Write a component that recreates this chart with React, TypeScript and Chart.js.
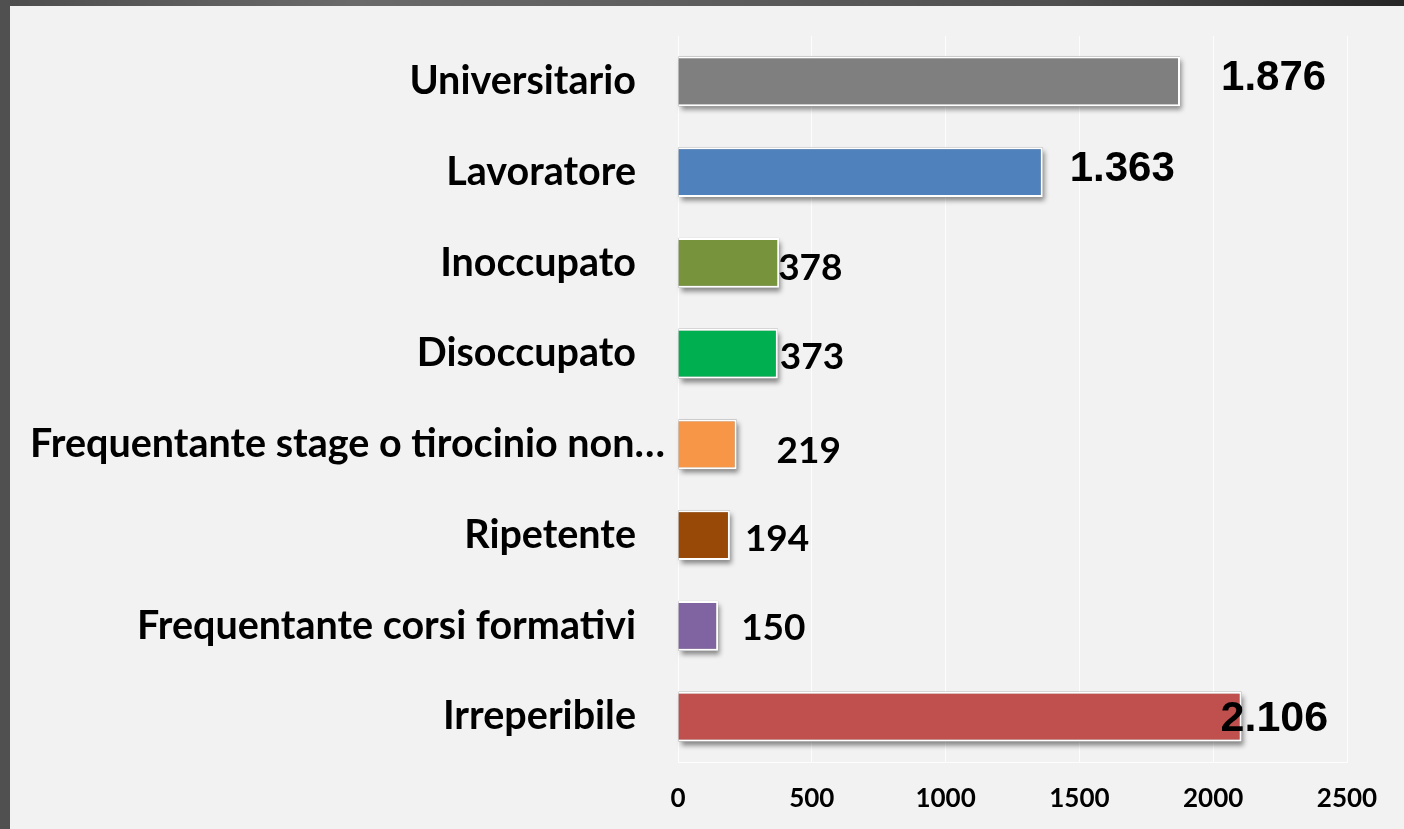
import React, { useEffect, useRef } from 'react';
import { Chart, registerables } from 'chart.js';

Chart.register(...registerables);

// ---- data ----
const categories = [
  'Universitario',
  'Lavoratore',
  'Inoccupato',
  'Disoccupato',
  'Frequentante stage o tirocinio non…',
  'Ripetente',
  'Frequentante corsi formativi',
  'Irreperibile',
];
const values = [1876, 1363, 378, 373, 219, 194, 150, 2106];
const barColors = ['#7f7f7f', '#4f81bd', '#77933c', '#00b050', '#f79646', '#984807', '#8064a2', '#c0504d'];
const xMin = 0;
const xMax = 2500;
const xStep = 500;

// ---- styling (not data) ----
const ARIAL = '"Liberation Sans", Arial, sans-serif';
const CAL = 'Lato, "Open Sans", sans-serif';
const valueLabelStyles = [
  { dx: 41, dy: -3, font: `bold 42px ${ARIAL}` },
  { dx: 27, dy: -3, font: `bold 42px ${ARIAL}` },
  { dx: -1, dy: 5, font: `bold 37px ${CAL}` },
  { dx: 2, dy: 3, font: `bold 37px ${CAL}` },
  { dx: 40, dy: 7, font: `bold 37px ${CAL}` },
  { dx: 15, dy: 4, font: `bold 37px ${CAL}` },
  { dx: 23, dy: 2, font: `bold 37px ${CAL}` },
  { dx: -21, dy: 3, font: `bold 43px ${ARIAL}` },
];
const categoryLabelShift = [0, 0, 0, 0, 29, 0, 0, 0];
const categoryFont = `bold 39.5px ${CAL}`;

const fmt = (v: number) => String(v).replace(/\B(?=(\d{3})+(?!\d))/g, '.');

const shadowPlugin = {
  id: 'barShadow',
  beforeDatasetsDraw(chart: any) {
    const ctx = chart.ctx;
    const meta = chart.getDatasetMeta(0);
    meta.data.forEach((el: any) => {
      const { x, y, base, height } = el.getProps(['x', 'y', 'base', 'height'], true);
      ctx.save();
      ctx.shadowColor = 'rgba(0,0,0,0.45)';
      ctx.shadowBlur = 5;
      ctx.shadowOffsetX = 2;
      ctx.shadowOffsetY = 4;
      ctx.fillStyle = '#999';
      ctx.fillRect(base, y - height / 2, x - base, height);
      ctx.restore();
    });
  },
};

const labelPlugin = {
  id: 'labels',
  afterDatasetsDraw(chart: any) {
    const ctx = chart.ctx;
    const meta = chart.getDatasetMeta(0);
    const yScale = chart.scales.y;
    ctx.save();
    ctx.fillStyle = '#000';
    ctx.textBaseline = 'middle';
    ctx.textAlign = 'left';
    meta.data.forEach((el: any, i: number) => {
      const st = valueLabelStyles[i];
      ctx.font = st.font;
      ctx.fillText(fmt(values[i]), el.x + st.dx, el.y + st.dy);
    });
    ctx.textAlign = 'right';
    ctx.font = categoryFont;
    categories.forEach((c, i) => {
      const y = yScale.getPixelForValue(i);
      ctx.fillText(c, yScale.right - 42 + categoryLabelShift[i], y);
    });
    ctx.restore();
  },
};

export default function App() {
  const ref = useRef<HTMLCanvasElement>(null);

  useEffect(() => {
    document.documentElement.style.background = '#f2f2f2';
    document.body.style.margin = '0';
    if (!ref.current) return;
    const grid = 'rgba(255,255,255,0.85)';
    const chart = new Chart(ref.current, {
      type: 'bar',
      data: {
        labels: categories,
        datasets: [
          {
            data: values,
            backgroundColor: barColors,
            borderColor: '#ffffff',
            borderWidth: 2,
            categoryPercentage: 1,
            barPercentage: 0.55,
          },
        ],
      },
      options: {
        indexAxis: 'y',
        animation: false,
        responsive: false,
        layout: { padding: { top: 30, right: 57, bottom: 0, left: 0 } },
        plugins: { legend: { display: false }, tooltip: { enabled: false } },
        scales: {
          x: {
            min: xMin,
            max: xMax,
            ticks: {
              stepSize: xStep,
              callback: (v: any) => String(v),
              font: { family: 'Lato', weight: 'bold', size: 26 },
              color: '#000',
              padding: 21,
              maxRotation: 0,
            },
            grid: { color: grid, drawTicks: false, lineWidth: 1 },
            border: { display: true, color: grid },
            afterFit: (s: any) => {
              s.height = 67;
            },
          },
          y: {
            ticks: { display: false },
            grid: { display: false, drawTicks: false },
            border: { display: false },
            afterFit: (s: any) => {
              s.width = 668;
            },
          },
        },
      },
      plugins: [shadowPlugin, labelPlugin],
    });
    let alive = true;
    if ((document as any).fonts) {
      Promise.all([
        document.fonts.load(`bold 37px Lato`),
        document.fonts.load(`bold 42px "Liberation Sans"`),
      ]).then(() => {
        if (alive) chart.update();
      }).catch(() => {});
    }
    return () => {
      alive = false;
      chart.destroy();
    };
  }, []);

  return (
    <div
      style={{
        position: 'fixed',
        left: 0,
        top: 0,
        width: 1404,
        height: 829,
        overflow: 'hidden',
        background: '#f2f2f2',
      }}
    >
      <div
        style={{
          position: 'absolute',
          left: 0,
          top: 0,
          width: 1404,
          height: 6,
          background: 'linear-gradient(90deg, #4d4d4d 0%, #6a6a6a 25%, #505050 75%, #262626 100%)',
        }}
      />
      <div
        style={{
          position: 'absolute',
          left: 0,
          top: 0,
          width: 10,
          height: 829,
          background: '#505050',
        }}
      />
      <canvas
        ref={ref}
        width={1394}
        height={823}
        style={{ display: 'block', position: 'absolute', left: 10, top: 6 }}
      />
    </div>
  );
}
